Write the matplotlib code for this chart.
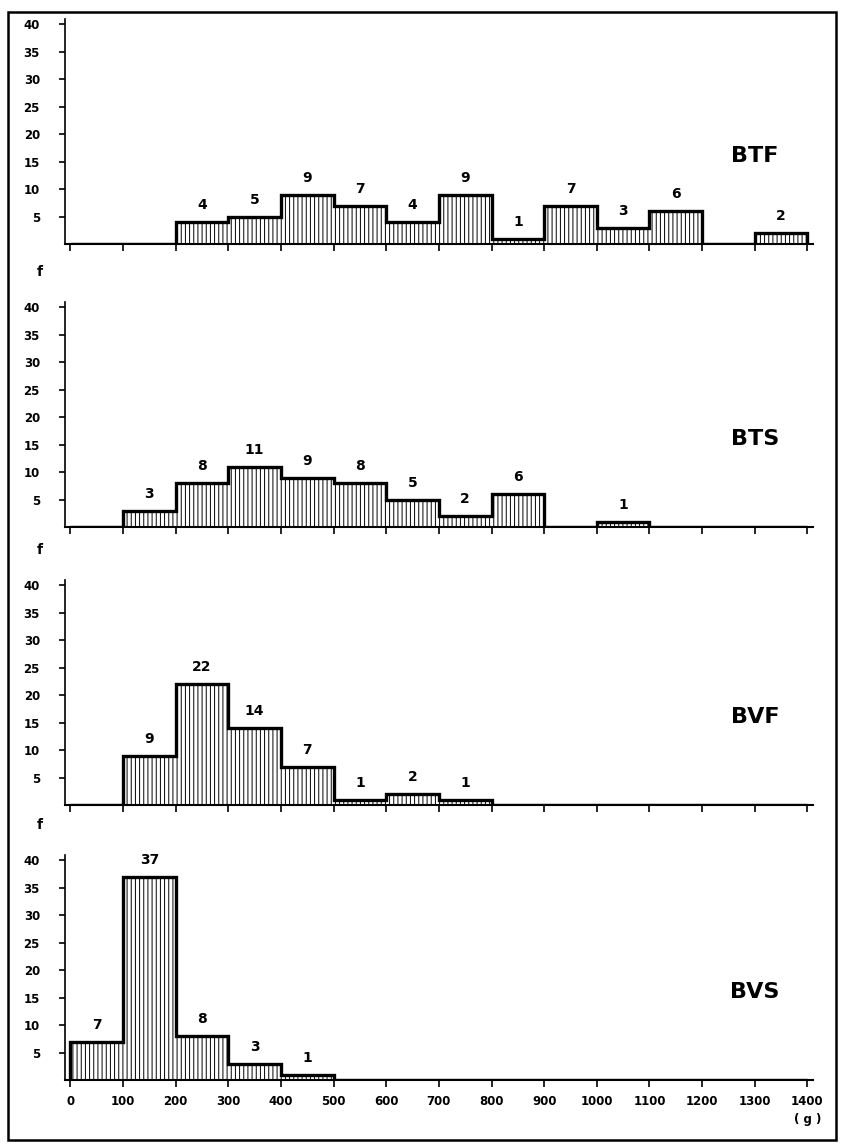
import numpy as np
import matplotlib.pyplot as plt
from matplotlib.patches import Rectangle

# bin starts (g) and counts for each group, bins are 100 g wide
btf_starts = [200, 300, 400, 500, 600, 700, 800, 900, 1000, 1100, 1300]
btf_counts = [4, 5, 9, 7, 4, 9, 1, 7, 3, 6, 2]

bts_starts = [100, 200, 300, 400, 500, 600, 700, 800, 1000]
bts_counts = [3, 8, 11, 9, 8, 5, 2, 6, 1]

bvf_starts = [100, 200, 300, 400, 500, 600, 700]
bvf_counts = [9, 22, 14, 7, 1, 2, 1]

bvs_starts = [0, 100, 200, 300, 400]
bvs_counts = [7, 37, 8, 3, 1]

names = ["BTF", "BTS", "BVF", "BVS"]
y_ticks = [5, 10, 15, 20, 25, 30, 35, 40]
x_ticks = list(range(0, 1500, 100))

plt.rcParams["hatch.linewidth"] = 0.7
plt.rcParams["font.family"] = ["DejaVu Sans"]

W, H = 843, 1148
fig = plt.figure(figsize=(W / 100, H / 100), dpi=100)

baselines = [244, 527, 805, 1080]   # pixel row of the x axis in each panel
panel_h = 225
left_px, right_px = 65, 818

groups = [(btf_starts, btf_counts), (bts_starts, bts_counts),
          (bvf_starts, bvf_counts), (bvs_starts, bvs_counts)]

edges = np.arange(0, 1500, 100)

for i, (starts, counts) in enumerate(groups):
    base = baselines[i]
    ax = fig.add_axes([left_px / W, 1 - base / H, (right_px - left_px) / W, panel_h / H])
    ax.set_xlim(-10, 1420)
    ax.set_ylim(0, 41)

    full = np.zeros(len(edges) - 1)
    for s, c in zip(starts, counts):
        full[s // 100] = c

    ax.bar(starts, counts, width=100, align="edge", facecolor="white",
           edgecolor="black", hatch="||||", linewidth=0)
    ax.stairs(full, edges, color="black", linewidth=2.4, baseline=0)

    for s, c in zip(starts, counts):
        ax.text(s + 50, c + 1.8, str(c), ha="center", va="bottom",
                fontsize=10, fontweight="bold")

    for side in ["top", "right"]:
        ax.spines[side].set_visible(False)
    ax.spines["left"].set_linewidth(1.2)
    ax.spines["bottom"].set_linewidth(1.5)
    ax.spines["left"].set_bounds(0, 41)
    ax.spines["bottom"].set_bounds(-10, 1410)

    ax.set_yticks(y_ticks)
    ax.set_yticklabels([str(v) for v in y_ticks], fontsize=8.5, fontweight="bold")
    ax.tick_params(axis="y", direction="out", length=4, width=1.2, pad=14)
    ax.set_xticks(x_ticks)
    ax.tick_params(axis="x", direction="out", length=5, width=1.2)
    if i == 3:
        ax.set_xticklabels([str(v) for v in x_ticks], fontsize=8.5, fontweight="bold")
        ax.tick_params(axis="x", pad=6)
        ax.text(1400, -7.2, "( g )", ha="center", va="center", fontsize=8.5,
                fontweight="bold")
    else:
        ax.set_xticklabels([])

    ax.text(1300, 16, names[i], ha="center", va="center", fontsize=16,
            fontweight="bold")

    if i > 0:
        fig.text(40 / W, 1 - (base - panel_h - 30) / H, "f", ha="center",
                 va="center", fontsize=10, fontweight="bold")

# frame around the whole figure
fig.patches.append(Rectangle((8 / W, 1 - 1140 / H), (836 - 8) / W, (1140 - 12) / H,
                             transform=fig.transFigure, fill=False,
                             edgecolor="black", linewidth=1.8))

fig.savefig("out.png", dpi=100)
